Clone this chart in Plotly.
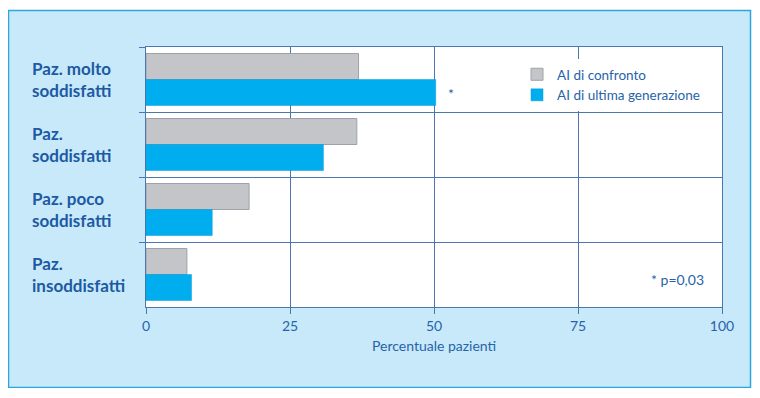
import plotly.graph_objects as go

categories = ["Paz. molto<br>soddisfatti", "Paz.<br>soddisfatti", "Paz. poco<br>soddisfatti", "Paz.<br>insoddisfatti"]
series_names = ["AI di confronto", "AI di ultima generazione"]
confronto = [36.9, 36.6, 17.9, 7.1]
ultima = [50.3, 30.8, 11.5, 7.9]
x_ticks = [0, 25, 50, 75, 100]

LINE = "#4a77ad"
TXT = "#2763aa"
LAB = "#1c5aa3"
OFF = 8  # page body margin offset
W, H = 744, 380
L, T = 146 - OFF, 47 - OFF
PR, PB = 722 - OFF, 307 - OFF
R, B = W - PR, H - PB
pw, ph = PR - L, PB - T

def px_x(p):
    return (p - OFF - L) / pw

def px_y(p):
    return (PB - (p - OFF)) / ph

fig = go.Figure()
fig.add_trace(go.Bar(y=categories, x=confronto, orientation="h", name=series_names[0],
                     marker=dict(color="#c3c5c9", line=dict(color="#9ea2a7", width=1))))
fig.add_trace(go.Bar(y=categories, x=ultima, orientation="h", name=series_names[1],
                     marker=dict(color="#00aeef", line=dict(color="#0a9ad6", width=0.5))))

shapes = [
    dict(type="rect", xref="paper", yref="paper", x0=px_x(8.5), x1=px_x(750.5), y0=px_y(387.5), y1=px_y(10.5),
         fillcolor="#c8e9fa", line=dict(color="#2ba6df", width=1.5), layer="below"),
    dict(type="rect", xref="paper", yref="paper", x0=0, x1=1, y0=0, y1=1,
         fillcolor="white", line=dict(width=0), layer="below"),
]

annotations = []
for c in categories:
    annotations.append(dict(x=px_x(30), xref="paper", y=c, yref="y", text=c, showarrow=False,
                            xanchor="left", yanchor="middle", align="left",
                            font=dict(family="Lato", size=17, color=LAB, weight="bold")))
annotations.append(dict(x=ultima[0] + 1.8, xref="x", y=px_y(93), yref="paper", text="*", showarrow=False,
                        xanchor="left", yanchor="middle", font=dict(family="Lato", size=14, color=TXT)))
annotations.append(dict(x=px_x(706), xref="paper", y=px_y(279), yref="paper", text="* p=0,03", showarrow=False,
                        xanchor="right", yanchor="middle", font=dict(family="Lato", size=14, color=TXT)))
annotations.append(dict(x=0.5, xref="paper", y=px_y(345), yref="paper", text="Percentuale pazienti",
                        showarrow=False, xanchor="center", yanchor="middle",
                        font=dict(family="Lato", size=14, color=TXT)))

fig.update_layout(
    width=W, height=H,
    margin=dict(l=L, r=R, t=T, b=B, pad=0),
    paper_bgcolor="white", plot_bgcolor="white",
    barmode="group", bargap=0.2, bargroupgap=0,
    font=dict(family="Lato", size=13, color=TXT),
    shapes=shapes, annotations=annotations,
    showlegend=True,
    legend=dict(x=px_x(517), y=px_y(59), xanchor="left", yanchor="top", bgcolor="white",
                borderwidth=0, font=dict(family="Lato", size=13.5, color=TXT), traceorder="normal"),
    xaxis=dict(range=[0, 100], tickvals=x_ticks, ticktext=[str(v) for v in x_ticks],
               showline=True, linecolor=LINE, linewidth=1, mirror=True,
               ticks="outside", ticklen=6, tickcolor=LINE,
               showgrid=True, gridcolor=LINE, gridwidth=1, zeroline=False,
               tickfont=dict(family="Lato", size=14, color=TXT), fixedrange=True),
    yaxis=dict(type="category", categoryorder="array", categoryarray=categories,
               range=[3.5, -0.5], tickson="boundaries", showticklabels=False,
               showline=True, linecolor=LINE, linewidth=1, mirror=True,
               ticks="outside", ticklen=6, tickcolor=LINE,
               showgrid=True, gridcolor=LINE, gridwidth=1, zeroline=False, fixedrange=True),
)

fig.write_html("out.html")
